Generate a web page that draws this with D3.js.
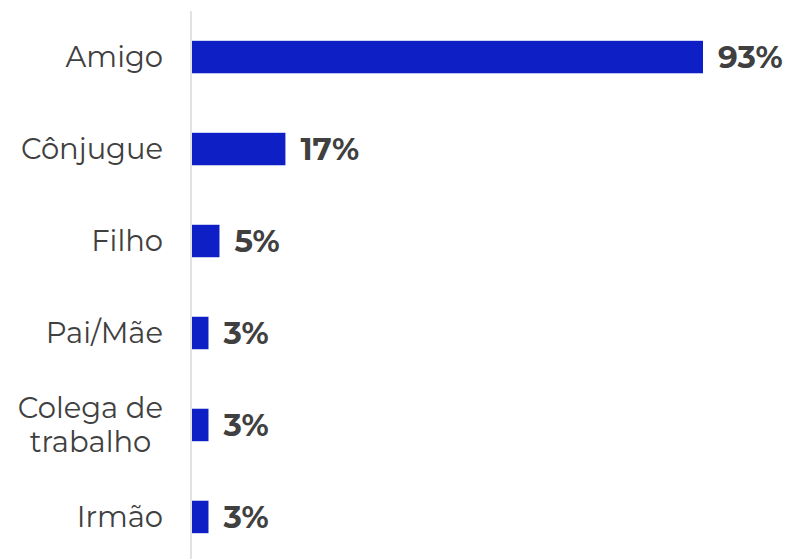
<!DOCTYPE html>
<html>
<head>
<meta charset="utf-8">
<script src="https://cdn.jsdelivr.net/npm/d3@7"></script>
<style>
  body { margin: 0; background: #fff; }
  .cat { font-family: Montserrat, "DejaVu Sans", sans-serif; font-size: 29px; fill: #404040; font-weight: 400; }
  .val { font-family: Montserrat, "DejaVu Sans", sans-serif; font-size: 31px; fill: #404040; font-weight: 700; }
</style>
</head>
<body>
<div id="chart"></div>
<script>
// chart data
var categories = ["Amigo", "Cônjugue", "Filho", "Pai/Mãe", "Colega de\ntrabalho", "Irmão"];
var values = [93, 17, 5, 3, 3, 3];
var valueLabels = ["93%", "17%", "5%", "3%", "3%", "3%"];

var chartProperties = {
	outerWidth: 791,
	outerHeight: 559,
	margin: { top: 11, right: 0, bottom: 0, left: 191 }
};
chartProperties.width = chartProperties.outerWidth - chartProperties.margin.left - chartProperties.margin.right;
chartProperties.height = chartProperties.outerHeight - chartProperties.margin.top - chartProperties.margin.bottom;

var svg = d3.select("#chart")
	.append("svg")
	.attr("width", chartProperties.outerWidth)
	.attr("height", chartProperties.outerHeight)
	.append("g")
	.attr("transform", "translate(" + chartProperties.margin.left + "," + chartProperties.margin.top + ")");

// scales
var xScale = d3.scaleLinear()
	.domain([0, 93])
	.range([1, 512]);

var yScale = d3.scaleBand()
	.domain(categories)
	.range([0, 552])
	.paddingInner(0.647)
	.paddingOuter(0.324);

// axis line (left)
svg.append("line")
	.attr("x1", 0).attr("x2", 0)
	.attr("y1", 0).attr("y2", chartProperties.height)
	.attr("stroke", "#d9d9d9")
	.attr("stroke-width", 1.5);

// bars
svg.selectAll("rect.bar")
	.data(values)
	.enter()
	.append("rect")
	.attr("class", "bar")
	.attr("x", xScale(0))
	.attr("y", function(d, i) { return yScale(categories[i]); })
	.attr("width", function(d) { return xScale(d) - xScale(0); })
	.attr("height", yScale.bandwidth())
	.attr("fill", "#0d1fc5");

// value labels
svg.selectAll("text.val")
	.data(values)
	.enter()
	.append("text")
	.attr("class", "val")
	.attr("x", function(d) { return xScale(d) + 15; })
	.attr("y", function(d, i) { return yScale(categories[i]) + yScale.bandwidth() / 2; })
	.attr("dy", "0.36em")
	.text(function(d, i) { return valueLabels[i]; });

// category labels (multi-line ones are centred on their widest line)
var labelRight = -28;
var cat = svg.selectAll("text.cat")
	.data(categories)
	.enter()
	.append("text")
	.attr("class", "cat")
	.attr("text-anchor", "end")
	.attr("x", labelRight)
	.attr("y", function(d) { return yScale(d) + yScale.bandwidth() / 2; });

cat.each(function(d) {
	var lines = d.split("\n");
	var t = d3.select(this);
	var lh = 34;
	lines.forEach(function(l, j) {
		t.append("tspan")
			.attr("x", labelRight)
			.attr("dy", j === 0 ? (0.36 * 29 - (lines.length - 1) * lh / 2) + "px" : lh + "px")
			.text(l);
	});
	if (lines.length > 1) {
		var w = 0;
		t.selectAll("tspan").each(function() { w = Math.max(w, this.getComputedTextLength()); });
		t.attr("text-anchor", "middle");
		t.selectAll("tspan").attr("x", labelRight - w / 2);
	}
});
</script>
</body>
</html>
